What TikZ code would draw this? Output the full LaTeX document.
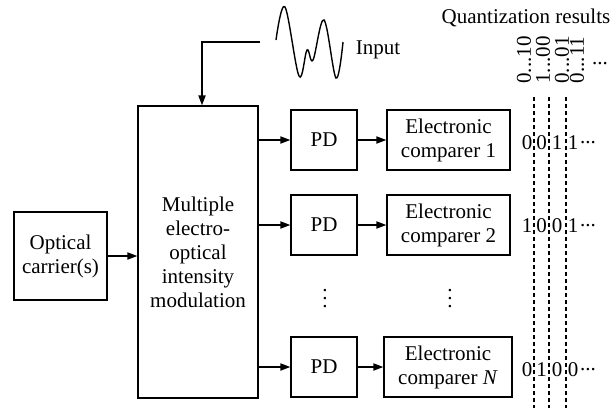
\documentclass[tikz,border=0pt]{standalone}
\usepackage{fontspec}
\setmainfont{Liberation Serif}
\usetikzlibrary{arrows.meta,calc}
\begin{document}
\begin{tikzpicture}[x=0.5pt,y=-0.5pt,
  lbl/.style={font=\fontsize{10.5}{12}\selectfont},
  box/.style={draw,line width=0.7pt,inner sep=0pt,align=center,lbl},
  arr/.style={line width=0.7pt,-{Triangle[length=5pt,width=3.6pt]}},
  txt/.style={inner sep=0pt,lbl},
  dline/.style={line width=0.7pt,dash pattern=on 2pt off 1.5pt},
  pdbox/.style={box,minimum width=33pt,minimum height=30pt},
  cmpbox/.style={box,minimum width=61.5pt,minimum height=30pt}]
\useasboundingbox (0,0) rectangle (615,408);
% boxes
\node[box,minimum width=46.5pt,minimum height=44pt] (oc) at (60.5,256) {Optical\\carrier(s)};
\node[box,minimum width=60pt,minimum height=146pt] (mod) at (198,252) {Multiple\\electro-\\optical\\intensity\\modulation};
\node[pdbox] (pd1) at (324,140) {PD};
\node[pdbox] (pd2) at (324,225) {PD};
\node[pdbox] (pdn) at (324,367) {PD};
\node[cmpbox] (c1) at (448.5,140) {Electronic\\comparer 1};
\node[cmpbox] (c2) at (448.5,225) {Electronic\\comparer 2};
\node[cmpbox,minimum width=64pt] (cn) at (448,367) {Electronic\\comparer \textit{N}};
\node[txt] (v1) at (325,293) {$\vdots$};
\node[txt] (v2) at (450,293) {$\vdots$};
% connectors
\draw[arr] (oc.east) -- (oc.east -| mod.west);
\draw[arr] (pd1.west -| mod.east) -- (pd1.west);
\draw[arr] (pd2.west -| mod.east) -- (pd2.west);
\draw[arr] (pdn.west -| mod.east) -- (pdn.west);
\draw[arr] (pd1.east) -- (c1.west);
\draw[arr] (pd2.east) -- (c2.west);
\draw[arr] (pdn.east) -- (cn.west);
% input
\coordinate (inp) at (260,42);
\draw[arr] (inp) -| ([xshift=2pt]mod.north);
\draw[line width=0.7pt] plot[smooth,tension=0.6] coordinates {(276,40) (285,7) (299,76) (307,50) (313,60) (324,20) (336,78) (343,42)};
\node[txt] (input) at (378,50) {Input};
% quantization
\node[txt] (qr) at (526,18) {Quantization results};
\node[txt,rotate=90] (q1) at (524,60) {0.{}.{}.10};
\node[txt,rotate=90] (q2) at (543,60) {1.{}.{}.00};
\node[txt,rotate=90] (q3) at (562,60) {0.{}.{}.01};
\node[txt,rotate=90] (q4) at (577,60) {0.{}.{}.11};
\node[txt] (qd) at (600,64) {.{}.{}.};
\foreach \x in {534,549,566}
  \draw[dline] (\x,97) -- (\x,408);
\foreach \y/\a/\b/\c/\d [count=\r] in {143/0/0/1/1,226/1/0/0/1,370/0/1/0/0}{
  \node[txt] (b\r a) at (527,\y) {\a};
  \node[txt] (b\r b) at (541.5,\y) {\b};
  \node[txt] (b\r c) at (557,\y) {\c};
  \node[txt] (b\r d) at (573,\y) {\d};
  \node[txt] (b\r e) at (588,\y) {.{}.{}.};
}
\end{tikzpicture}
\end{document}
